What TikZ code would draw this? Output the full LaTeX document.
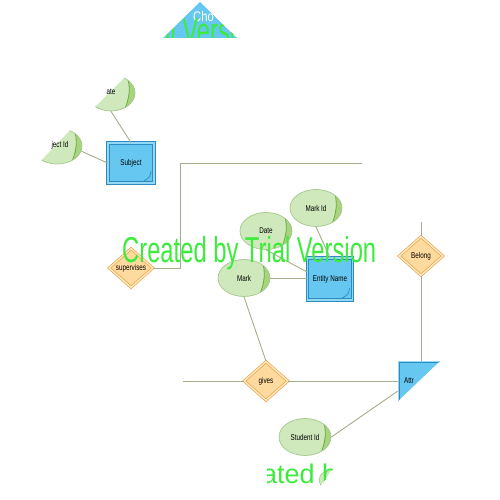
\documentclass[tikz,border=0pt]{standalone}
\usepackage{graphicx}
\usepackage{fontspec}
\setmainfont{Liberation Sans}
\usetikzlibrary{shapes.geometric,calc}
\definecolor{lnk}{HTML}{A3AE8A}
\definecolor{efill}{HTML}{CFE8BC}
\definecolor{edraw}{HTML}{A3C88C}
\definecolor{eswoosh}{HTML}{A8D480}
\definecolor{eline}{HTML}{6BAF3E}
\definecolor{bfill}{HTML}{66C8F0}
\definecolor{bdraw}{HTML}{2D8BC2}
\definecolor{dfill}{HTML}{FFDA9E}
\definecolor{ddraw}{HTML}{E9A447}
\definecolor{wm}{HTML}{3DEB3D}
\newcommand{\lb}[1]{\scalebox{0.75}[1]{#1}}
\newcommand{\wmtext}{\fontsize{36}{40}\selectfont\scalebox{0.66}[1]{Created by Trial Version}}
\tikzset{
  lbfont/.style={font=\fontsize{8.4}{9}\selectfont, text=black},
  link/.style={draw=lnk, line width=0.9},
  attrell/.style={ellipse, draw=edraw, fill=efill, line width=0.7,
    minimum width=52, minimum height=37, inner sep=0, lbfont,
    path picture={
      \fill[eswoosh] ($(path picture bounding box.north east)+(-9,0)$)
        .. controls +(6,12) and +(5,-12) .. ($(path picture bounding box.south east)+(-11,0)$)
        -- (path picture bounding box.south east) -- (path picture bounding box.north east) -- cycle;
      \draw[eline, line width=0.8] ($(path picture bounding box.north east)+(-9,0)$)
        .. controls +(6,12) and +(5,-12) .. ($(path picture bounding box.south east)+(-11,0)$);
    }},
  entbox/.style={rectangle, draw=bdraw, fill=bfill, line width=0.8,
    double=bfill!70!white, double distance=1.6, inner sep=0, lbfont,
    path picture={
      \draw[bdraw, line width=0.7] ($(path picture bounding box.south east)+(-3,-12)$)
        .. controls +(-1,6) .. ($(path picture bounding box.south east)+(-10,-2)$);
    }},
  relship/.style={diamond, draw=ddraw, fill=dfill, line width=0.7,
    double=dfill!60!white, double distance=1.4,
    minimum width=44, minimum height=39, inner sep=0, lbfont},
  wmark/.style={anchor=base west, inner sep=0, text=wm}
}
\begin{document}
\begin{tikzpicture}[x=1pt,y=-1pt]
\useasboundingbox (0,0) rectangle (500,500);

% top clipped triangle
\begin{scope}
  \clip (200,2) -- (237,38) -- (163,38) -- cycle;
  \fill[bfill] (200,2) -- (237,38) -- (163,38) -- cycle;
  \node[anchor=base west, inner sep=0, text=white, font=\fontsize{14}{16}\selectfont] (cho) at (193,22) {\scalebox{0.8}[1]{Cho}};
  \node[wmark] (wmtop) at (7.5,44) {\wmtext};
\end{scope}

% half ellipses
\begin{scope}
  \clip (88,114) -- (132,70) -- (150,70) -- (150,120) -- (88,120) -- cycle;
  \node[attrell, minimum width=48, minimum height=36] (dateh) at (111,93) {};
\end{scope}
\node[lbfont, inner sep=0] (datehtxt) at (111,92) {\lb{ate}};
\begin{scope}
  \clip (35,167) -- (75,125) -- (95,125) -- (95,170) -- (35,170) -- cycle;
  \node[attrell, minimum width=50, minimum height=36] (subjid) at (57,146) {};
\end{scope}
\node[lbfont, inner sep=0] (subjidtxt) at (60,145) {\lb{ject Id}};

% entities
\node[entbox, minimum width=46, minimum height=40] (subject) at (131,163) {\lb{Subject}};
\node[entbox, minimum width=45, minimum height=42] (ename) at (330,279) {\lb{Entity Name}};
\begin{scope}
  \clip (398,361) -- (440,361) -- (398,401) -- cycle;
  \node[entbox, minimum width=42, minimum height=40, path picture={}] (attr) at (419,381) {};
  \node[lbfont, anchor=west, inner sep=0] (attrtxt) at (404,381) {\lb{Attr}};
\end{scope}

% attributes
\node[attrell] (date) at (266,231) {\lb{Date}};
\node[attrell] (markid) at (316,208) {\lb{Mark Id}};
\node[attrell] (mark) at (244,278) {\lb{Mark}};
\node[attrell] (studid) at (305,437) {\lb{Student Id}};

% relationships
\node[relship] (superv) at (131,268) {\lb{supervises}};
\node[relship] (gives) at (266,381) {\lb{gives}};
\node[relship] (belong) at (421,256) {\lb{Belong}};

% free ends
\coordinate (c1) at (180,163);
\coordinate (e1) at (362,163);
\coordinate (e2) at (183,381);
\coordinate (e3) at (421,222);

% connectors
\draw[link] (dateh.south) -- (subject.north);
\draw[link] (subjid.-12) -- (subject.west);
\draw[link] (superv.east) -| (c1) -- (e1);
\draw[link] (date.south) -- ($(ename.west)+(0,-7)$);
\draw[link] (mark.east) -- (mark.east -| ename.west);
\draw[link] (markid.south) -- (ename.north);
\draw[link] (mark.south) -- (gives.north);
\draw[link] (e2) -- (gives.west);
\draw[link] (gives.east) -- (attr.west);
\draw[link] (e3) -- (belong.north);
\draw[link] (belong.south) -- (belong.south |- attr.north);
\draw[link] (studid.east) -- ($(attr.west)!0.5!(attr.south west)$);

% bottom clipped fragment
\begin{scope}
  \clip (267,455) -- (342,455) -- (319,488) -- (267,488) -- cycle;
  \fill[efill, draw=edraw, line width=0.6] (335,480) ellipse [x radius=16, y radius=11];
  \node[wmark, font=\fontsize{27}{30}\selectfont] (wmbot) at (218.5,483) {Created by Trial Version};
\end{scope}

% central watermark
\node[wmark] (wmmid) at (122,262) {\wmtext};
\end{tikzpicture}
\end{document}
